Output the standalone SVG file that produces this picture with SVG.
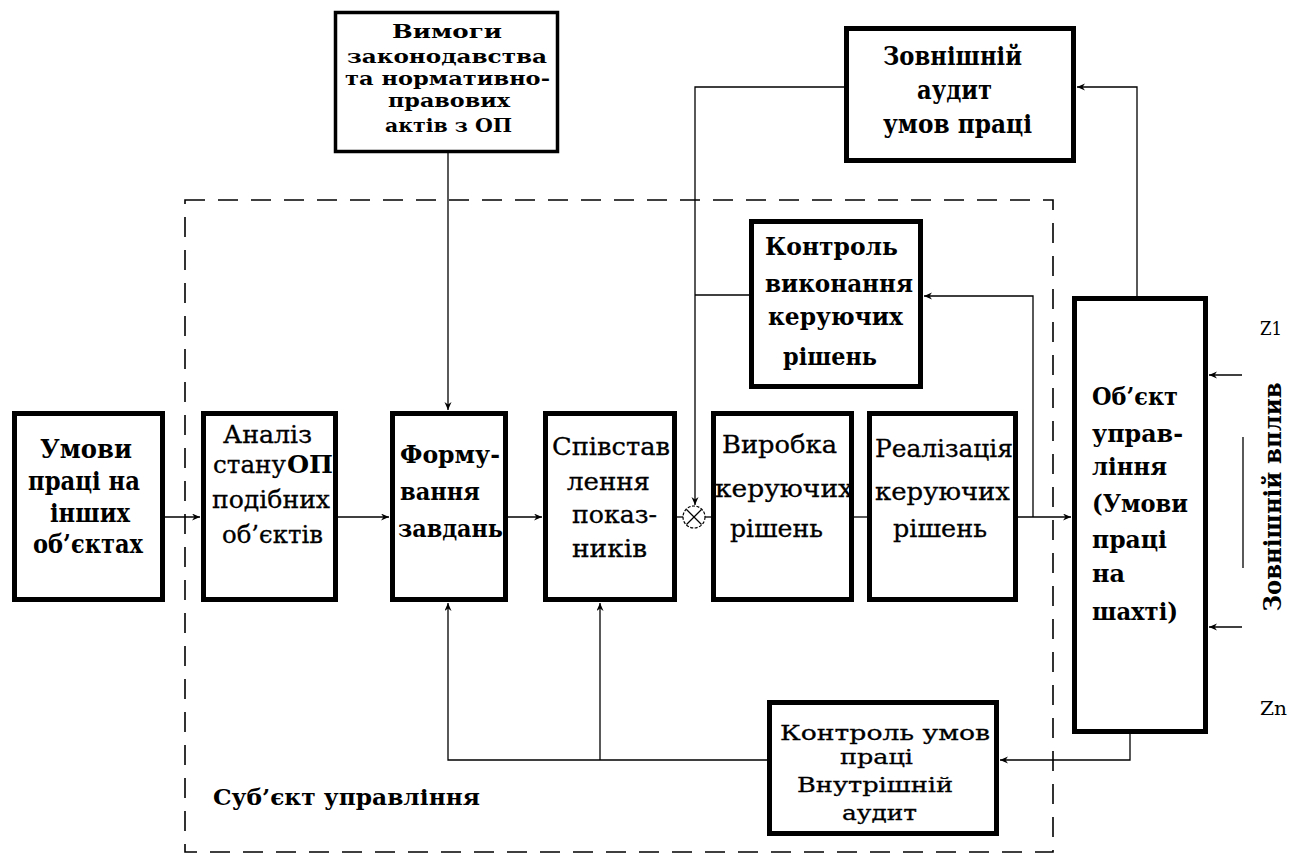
<svg xmlns="http://www.w3.org/2000/svg" width="1298" height="855" viewBox="0 0 1298 855">
<defs>
<style>
.box{fill:#fff;stroke:#000;stroke-width:5}
.t{font-family:"DejaVu Serif","Liberation Serif","Times New Roman",serif;fill:#000}
.b{font-weight:bold}
.r{font-weight:normal;stroke:#000;stroke-width:0.3}
.c{fill:none;stroke:#000;stroke-width:1.3}
.dash{fill:none;stroke:#000;stroke-width:1.6;stroke-dasharray:20 13}
</style>
<marker id="ar" markerWidth="10" markerHeight="8" refX="8" refY="3.5" orient="auto" markerUnits="userSpaceOnUse">
<path d="M0,0 L8,3.5 L0,7 L2.5,3.5 z" fill="#000"/>
</marker>
</defs>
<rect width="1298" height="855" fill="#fff"/>

<g id="boundary">
<rect class="dash" x="185" y="200" width="868" height="652"/>
<text class="t b" x="213" y="805" font-size="22" textLength="267" lengthAdjust="spacingAndGlyphs">Суб’єкт  управління</text>
</g>

<g id="connectors">
<line class="c" x1="165" y1="517" x2="200" y2="517" marker-end="url(#ar)"/>
<line class="c" x1="338" y1="517" x2="389" y2="517" marker-end="url(#ar)"/>
<line class="c" x1="508" y1="517" x2="542" y2="517" marker-end="url(#ar)"/>
<line class="c" x1="677" y1="517" x2="683" y2="517"/>
<line class="c" x1="705" y1="517" x2="711" y2="517"/>
<line class="c" x1="854" y1="517" x2="867" y2="517"/>
<line class="c" x1="1018" y1="517" x2="1071" y2="517" marker-end="url(#ar)"/>
<polyline class="c" points="1033,517 1033,296 924,296" marker-end="url(#ar)"/>
<polyline class="c" points="749,295 695,295"/>
<polyline class="c" points="844,87 695,87 695,505" marker-end="url(#ar)"/>
<polyline class="c" points="1137,296 1137,87 1077,87" marker-end="url(#ar)"/>
<line class="c" x1="448" y1="153" x2="448" y2="410" marker-end="url(#ar)"/>
<polyline class="c" points="1130,734 1130,760 1000,760" marker-end="url(#ar)"/>
<polyline class="c" points="767,760 448,760 448,603" marker-end="url(#ar)"/>
<line class="c" x1="600" y1="760" x2="600" y2="603" marker-end="url(#ar)"/>
<line class="c" x1="1242" y1="375" x2="1209" y2="375" marker-end="url(#ar)"/>
<line class="c" x1="1242" y1="627" x2="1209" y2="627" marker-end="url(#ar)"/>
<line class="c" x1="1243" y1="437" x2="1243" y2="568"/>
</g>

<g id="sum">
<circle cx="694" cy="517" r="11" fill="#fff" stroke="#000" stroke-width="1.2" stroke-dasharray="3 1.5"/>
<line class="c" x1="686.5" y1="509.5" x2="701.5" y2="524.5" stroke-width="1.1"/>
<line class="c" x1="701.5" y1="509.5" x2="686.5" y2="524.5" stroke-width="1.1"/>
</g>

<g id="n-umovy">
<rect class="box" x="14.5" y="413.5" width="148" height="186"/>
<text class="t b" font-size="26" x="40" y="458" textLength="92" lengthAdjust="spacingAndGlyphs">Умови</text>
<text class="t b" font-size="26" x="28" y="490" textLength="112" lengthAdjust="spacingAndGlyphs">праці на</text>
<text class="t b" font-size="26" x="50" y="522" textLength="80" lengthAdjust="spacingAndGlyphs">інших</text>
<text class="t b" font-size="26" x="33" y="553" textLength="110" lengthAdjust="spacingAndGlyphs">об’єктах</text>
</g>

<g id="n-analiz">
<rect class="box" x="203.5" y="413.5" width="132" height="186"/>
<text class="t r" font-size="25" x="223" y="443" textLength="89" lengthAdjust="spacingAndGlyphs">Аналіз</text>
<text class="t r" font-size="25" x="213" y="473" textLength="73" lengthAdjust="spacingAndGlyphs">стану</text>
<text class="t b" font-size="25" x="287" y="473" textLength="46" lengthAdjust="spacingAndGlyphs">ОП</text>
<text class="t r" font-size="25" x="212" y="508" textLength="118" lengthAdjust="spacingAndGlyphs">подібних</text>
<text class="t r" font-size="25" x="222" y="543" textLength="101" lengthAdjust="spacingAndGlyphs">об’єктів</text>
</g>

<g id="n-formuvannia">
<rect class="box" x="392.5" y="413.5" width="113" height="186"/>
<text class="t b" font-size="25" x="400" y="463" textLength="100" lengthAdjust="spacingAndGlyphs">Форму-</text>
<text class="t b" font-size="25" x="400" y="500" textLength="80" lengthAdjust="spacingAndGlyphs">вання</text>
<text class="t b" font-size="25" x="398" y="537" textLength="105" lengthAdjust="spacingAndGlyphs">завдань</text>
</g>

<g id="n-spivstavlennia">
<rect class="box" x="545.5" y="413.5" width="129" height="186"/>
<text class="t r" font-size="25" x="552" y="455" textLength="118" lengthAdjust="spacingAndGlyphs">Співстав</text>
<text class="t r" font-size="25" x="567" y="490" textLength="83" lengthAdjust="spacingAndGlyphs">лення</text>
<text class="t r" font-size="25" x="572" y="523" textLength="85" lengthAdjust="spacingAndGlyphs">показ-</text>
<text class="t r" font-size="25" x="572" y="557" textLength="75" lengthAdjust="spacingAndGlyphs">ників</text>
</g>

<g id="n-vyrobka">
<rect class="box" x="713.5" y="413.5" width="138" height="186"/>
<text class="t r" font-size="25" x="722" y="453" textLength="115" lengthAdjust="spacingAndGlyphs">Виробка</text>
<text class="t r" font-size="25" x="715" y="497" textLength="138" lengthAdjust="spacingAndGlyphs">керуючих</text>
<text class="t r" font-size="25" x="730" y="537" textLength="93" lengthAdjust="spacingAndGlyphs">рішень</text>
</g>

<g id="n-realizatsiia">
<rect class="box" x="869.5" y="413.5" width="146" height="186"/>
<text class="t r" font-size="25" x="875" y="457" textLength="138" lengthAdjust="spacingAndGlyphs">Реалізація</text>
<text class="t r" font-size="25" x="875" y="500" textLength="135" lengthAdjust="spacingAndGlyphs">керуючих</text>
<text class="t r" font-size="25" x="893" y="537" textLength="94" lengthAdjust="spacingAndGlyphs">рішень</text>
</g>

<g id="n-vymohy">
<rect x="335.5" y="12.5" width="222" height="139" fill="#fff" stroke="#000" stroke-width="3.5"/>
<text class="t b" font-size="18" x="392" y="38" textLength="110" lengthAdjust="spacingAndGlyphs">Вимоги</text>
<text class="t b" font-size="18" x="347" y="63" textLength="200" lengthAdjust="spacingAndGlyphs">законодавства</text>
<text class="t b" font-size="18" x="345" y="85" textLength="205" lengthAdjust="spacingAndGlyphs">та нормативно-</text>
<text class="t b" font-size="18" x="388" y="107" textLength="122" lengthAdjust="spacingAndGlyphs">правових</text>
<text class="t b" font-size="18" x="385" y="132" textLength="127" lengthAdjust="spacingAndGlyphs">актів з ОП</text>
</g>

<g id="n-zovnishnii-audyt">
<rect class="box" x="846.5" y="28.5" width="227" height="132"/>
<text class="t b" font-size="26" x="883" y="65" textLength="139" lengthAdjust="spacingAndGlyphs">Зовнішній</text>
<text class="t b" font-size="26" x="917" y="99" textLength="75" lengthAdjust="spacingAndGlyphs">аудит</text>
<text class="t b" font-size="26" x="883" y="133" textLength="149" lengthAdjust="spacingAndGlyphs">умов праці</text>
</g>

<g id="n-kontrol-vykonannia">
<rect class="box" x="751.5" y="221.5" width="169" height="165"/>
<text class="t b" font-size="25" x="765" y="255" textLength="133" lengthAdjust="spacingAndGlyphs">Контроль</text>
<text class="t b" font-size="25" x="765" y="292" textLength="148" lengthAdjust="spacingAndGlyphs">виконання</text>
<text class="t b" font-size="25" x="768" y="325" textLength="135" lengthAdjust="spacingAndGlyphs">керуючих</text>
<text class="t b" font-size="25" x="783" y="365" textLength="94" lengthAdjust="spacingAndGlyphs">рішень</text>
</g>

<g id="n-obiekt">
<rect class="box" x="1074.5" y="298.5" width="131" height="433"/>
<text class="t b" font-size="24" x="1092" y="405" textLength="86" lengthAdjust="spacingAndGlyphs">Об’єкт</text>
<text class="t b" font-size="24" x="1092" y="442" textLength="91" lengthAdjust="spacingAndGlyphs">управ-</text>
<text class="t b" font-size="24" x="1092" y="475" textLength="75" lengthAdjust="spacingAndGlyphs">ління</text>
<text class="t b" font-size="24" x="1092" y="512" textLength="96" lengthAdjust="spacingAndGlyphs">(Умови</text>
<text class="t b" font-size="24" x="1092" y="548" textLength="75" lengthAdjust="spacingAndGlyphs">праці</text>
<text class="t b" font-size="24" x="1092" y="582" textLength="33" lengthAdjust="spacingAndGlyphs">на</text>
<text class="t b" font-size="24" x="1092" y="620" textLength="86" lengthAdjust="spacingAndGlyphs">шахті)</text>
</g>

<g id="n-kontrol-umov">
<rect class="box" x="769.5" y="702.5" width="227" height="131"/>
<text class="t r" font-size="21" x="780" y="740" textLength="210" lengthAdjust="spacingAndGlyphs">Контроль умов</text>
<text class="t r" font-size="21" x="840" y="764" textLength="73" lengthAdjust="spacingAndGlyphs">праці</text>
<text class="t r" font-size="21" x="797" y="792" textLength="156" lengthAdjust="spacingAndGlyphs">Внутрішній</text>
<text class="t r" font-size="21" x="842" y="820" textLength="75" lengthAdjust="spacingAndGlyphs">аудит</text>
</g>

<g id="external">
<text class="t" font-size="19" x="1260" y="335" textLength="22" lengthAdjust="spacingAndGlyphs">Z1</text>
<text class="t" font-size="19" x="1260" y="715" textLength="27" lengthAdjust="spacingAndGlyphs">Zn</text>
<text class="t b" font-size="24" transform="translate(1281,497) rotate(-90)" x="0" y="0" text-anchor="middle" textLength="229" lengthAdjust="spacingAndGlyphs">Зовнішній вплив</text>
</g>
</svg>
